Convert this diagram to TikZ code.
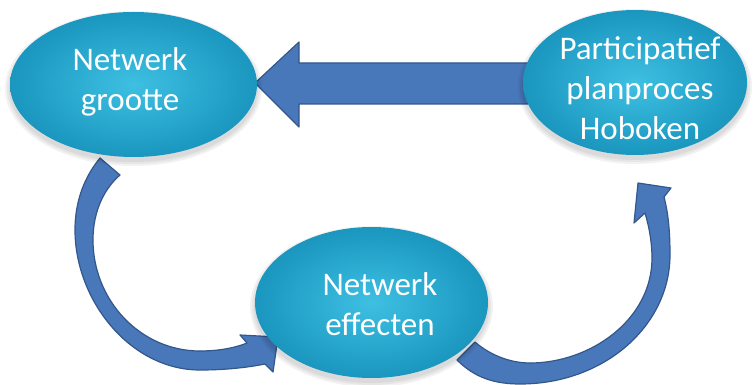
\documentclass[tikz,border=0pt]{standalone}
\usepackage{fontspec}
\setmainfont{Carlito}
\usetikzlibrary{shapes.geometric}
\definecolor{bubbleIn}{HTML}{3EC0E2}
\definecolor{bubbleOut}{HTML}{1A96BF}
\definecolor{arrowFill}{HTML}{4878BA}
\definecolor{arrowLine}{HTML}{33578A}
\begin{document}
\begin{tikzpicture}[x=1pt,y=-1pt,
  bubble/.style={ellipse, inner sep=0pt, draw=none, inner color=bubbleIn, outer color=bubbleOut},
  bubbletext/.style={text=white, align=center, inner sep=0pt, font=\fontsize{33}{40}\selectfont},
  blockarrow/.style={fill=arrowFill, draw=arrowLine, line width=1.2pt, line join=round},
  softshadow/.style={fill=black, opacity=0.05}]
\useasboundingbox (0,0) rectangle (753,385);

% block arrow from the planning process to the network size
\draw[blockarrow] (255,83) -- (299,42) -- (299,63) -- (528,63) -- (528,104)
  -- (299,104) -- (299,127) -- cycle;

% curved arrow: network size -> network effects
\draw[blockarrow] (100,158) .. controls (82,180) and (75,205) .. (75,230)
  .. controls (75,300) and (130,370) .. (200,370)
  .. controls (228,370) and (250,367) .. (265,364)
  -- (273,372) -- (278,337) -- (240,335) -- (247,343)
  .. controls (232,349) and (215,351) .. (200,351)
  .. controls (140,351) and (93,300) .. (93,240)
  .. controls (93,210) and (105,188) .. (120,175) -- cycle;

% curved arrow: network effects -> planning process
\draw[blockarrow] (457,360) .. controls (475,378) and (495,384) .. (520,384)
  .. controls (605,384) and (670,325) .. (670,255)
  .. controls (670,230) and (668,212) .. (664,197)
  -- (671,188) -- (638,183) -- (634,223) -- (645,213)
  .. controls (650,230) and (652,245) .. (652,258)
  .. controls (652,320) and (590,363) .. (530,363)
  .. controls (510,363) and (490,355) .. (475,342) -- cycle;

% soft shadows under the bubbles
\foreach \g in {1,3,5}{
  \fill[softshadow] (133.5,88.5) ellipse [x radius=123.5pt+\g pt, y radius=72.5pt+\g pt];
  \fill[softshadow] (635,86.5) ellipse [x radius=112pt+\g pt, y radius=72.5pt+\g pt];
  \fill[softshadow] (371.5,306.5) ellipse [x radius=116.5pt+\g pt, y radius=75.5pt+\g pt];
}

% bubbles
\node[bubble, minimum width=247pt, minimum height=145pt] (grootte) at (133.5,84.5) {};
\node[bubble, minimum width=224pt, minimum height=145pt] (plan) at (635,82.5) {};
\node[bubble, minimum width=233pt, minimum height=151pt] (effect) at (371.5,302.5) {};

% labels
\node[bubbletext] (grootteText) at (130,82) {Netwerk\\grootte};
\node[bubbletext] (planText) at (640,88) {Participatief\\planproces\\Hoboken};
\node[bubbletext] (effectText) at (380,304) {Netwerk\\effecten};
\end{tikzpicture}
\end{document}
